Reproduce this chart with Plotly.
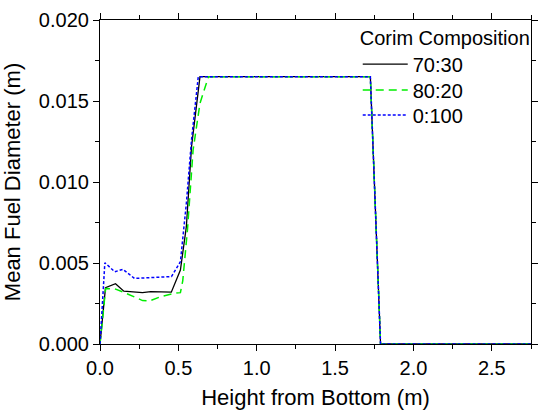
import plotly.graph_objects as go

# Mean fuel diameter profiles along the bed height for three corium compositions
x_7030 = [0.0, 0.035, 0.099, 0.152, 0.271, 0.324, 0.455, 0.513, 0.551, 0.584, 0.638, 1.725, 1.790, 2.75]
y_7030 = [0.0, 0.00348, 0.00372, 0.00326, 0.00317, 0.00323, 0.00320, 0.00457, 0.00724, 0.01218, 0.0165, 0.0165, 0.0, 0.0]

x_8020 = [0.0, 0.036, 0.094, 0.157, 0.272, 0.314, 0.387, 0.475, 0.513, 0.528, 0.558, 0.594, 0.638, 0.692, 1.725, 1.790, 2.75]
y_8020 = [0.0, 0.00342, 0.00341, 0.00317, 0.00268, 0.00265, 0.00292, 0.00313, 0.00317, 0.00390, 0.00704, 0.01198, 0.01486, 0.0165, 0.0165, 0.0, 0.0]

x_0100 = [0.0, 0.031, 0.094, 0.146, 0.220, 0.456, 0.513, 0.551, 0.584, 0.627, 1.725, 1.790, 2.75]
y_0100 = [0.0, 0.00502, 0.00446, 0.00461, 0.00405, 0.00416, 0.00508, 0.00868, 0.0126, 0.0165, 0.0165, 0.0, 0.0]

font_family = "Liberation Sans, Arial, sans-serif"

fig = go.Figure()
fig.add_trace(go.Scatter(x=x_7030, y=y_7030, mode="lines", name="70:30", legend="legend",
                         showlegend=True, line=dict(color="black", width=1.3)))
fig.add_trace(go.Scatter(x=x_8020, y=y_8020, mode="lines", name="80:20", legend="legend2",
                         showlegend=True, line=dict(color="#00ee00", width=1.5, dash="8px,5px")))
fig.add_trace(go.Scatter(x=x_0100, y=y_0100, mode="lines", name="0:100", legend="legend3",
                         showlegend=True, line=dict(color="#0000ff", width=1.5, dash="3px,2px")))

axis_common = dict(
    showline=True, linecolor="black", linewidth=1.2, mirror="allticks",
    ticks="outside", tickcolor="black", tickwidth=1.2, ticklen=6,
    showgrid=False, zeroline=False,
    tickfont=dict(family=font_family, size=20, color="black"),
)

fig.update_xaxes(
    range=[0, 2.75], tickvals=[0, 0.5, 1.0, 1.5, 2.0, 2.5],
    ticktext=["0.0", "0.5", "1.0", "1.5", "2.0", "2.5"],
    minor=dict(ticks="outside", dtick=0.25, ticklen=4, tickcolor="black", tickwidth=1.2),
    title=dict(text="Height from Bottom (m)", standoff=14,
               font=dict(family=font_family, size=22, color="black")),
    **axis_common,
)
fig.update_yaxes(
    range=[0, 0.02], tickvals=[0, 0.005, 0.010, 0.015, 0.020],
    ticktext=["0.000", "0.005", "0.010", "0.015", "0.020"],
    minor=dict(ticks="outside", dtick=0.0025, ticklen=4, tickcolor="black", tickwidth=1.2),
    title=dict(text="Mean Fuel Diameter (m)", standoff=12,
               font=dict(family=font_family, size=22, color="black")),
    **axis_common,
)

legend_common = dict(
    xanchor="left", bgcolor="rgba(0,0,0,0)", borderwidth=0,
    itemwidth=45, tracegroupgap=0,
    font=dict(family=font_family, size=20, color="black"),
)

fig.update_layout(
    width=540, height=410,
    margin=dict(l=100, r=2, t=20, b=66),
    paper_bgcolor="white", plot_bgcolor="white",
    font=dict(family=font_family, size=20, color="black"),
    showlegend=True,
    legend=dict(
        title=dict(text="Corim Composition", font=dict(family=font_family, size=20)),
        x=0.598, y=1.004, yanchor="top", **legend_common,
    ),
    legend2=dict(x=0.598, y=0.784, yanchor="middle", **legend_common),
    legend3=dict(x=0.598, y=0.707, yanchor="middle", **legend_common),
)

fig.write_html("out.html")
